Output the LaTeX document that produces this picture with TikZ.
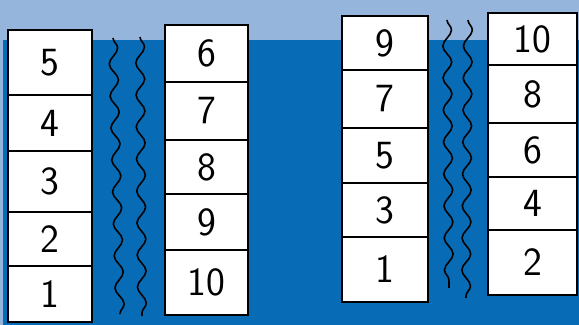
\documentclass[tikz,border=0pt]{standalone}
\usepackage{xcolor}
\definecolor{skyband}{RGB}{150,181,221}
\definecolor{seablue}{RGB}{8,107,181}
\usetikzlibrary{decorations.pathmorphing}

\begin{document}
\begin{tikzpicture}[x=0.5pt, y=-0.5pt,
    cell/.style={draw=black, fill=white, line width=1.2pt, inner sep=0pt,
                 font=\fontsize{20}{21}\selectfont\sffamily},
    wave/.style={draw=black, line width=0.8pt,
                 decorate, decoration={snake, amplitude=2.2pt, segment length=16pt}}]
  % Background: light band on top, dark blue below
  \fill[skyband] (0,0) rectangle (579,325);
  \fill[seablue] (3,40) rectangle (579,325);
  \useasboundingbox (0,0) rectangle (579,325);

  % First stack: 5 down to 1
  \node[cell, minimum width=42pt, minimum height=32.5pt] (l5) at (50,62.5) {5};
  \node[cell, minimum width=42pt, minimum height=28pt]   (l4) at (50,123)  {4};
  \node[cell, minimum width=42pt, minimum height=30.5pt] (l3) at (50,181.5) {3};
  \node[cell, minimum width=42pt, minimum height=27pt]   (l2) at (50,239)  {2};
  \node[cell, minimum width=42pt, minimum height=28pt]   (l1) at (50,294)  {1};

  % Gap between the first two stacks
  \coordinate (g1a) at (113,38);  \coordinate (g1b) at (120,314);
  \coordinate (g2a) at (140,37);  \coordinate (g2b) at (142,316);
  \draw[wave] (g1a) -- (g1b);
  \draw[wave] (g2a) -- (g2b);

  % Second stack: 6 down to 10
  \node[cell, minimum width=41.5pt, minimum height=28.5pt] (m6)  at (206.5,53.5) {6};
  \node[cell, minimum width=41.5pt, minimum height=29pt]   (m7)  at (206.5,111)  {7};
  \node[cell, minimum width=41.5pt, minimum height=27pt]   (m8)  at (206.5,167)  {8};
  \node[cell, minimum width=41.5pt, minimum height=28pt]   (m9)  at (206.5,222)  {9};
  \node[cell, minimum width=41.5pt, minimum height=32.5pt] (m10) at (206.5,282.5) {10};

  % Third stack: odd numbers
  \node[cell, minimum width=43pt, minimum height=27pt]   (o9) at (385,43)    {9};
  \node[cell, minimum width=43pt, minimum height=29pt]   (o7) at (385,99)    {7};
  \node[cell, minimum width=43pt, minimum height=27.5pt] (o5) at (385,155.5) {5};
  \node[cell, minimum width=43pt, minimum height=27pt]   (o3) at (385,210)   {3};
  \node[cell, minimum width=43pt, minimum height=32.5pt] (o1) at (385,269.5) {1};

  % Gap between the last two stacks
  \coordinate (g3a) at (447,20);  \coordinate (g3b) at (449,288);
  \coordinate (g4a) at (468,20);  \coordinate (g4b) at (466,298);
  \draw[wave] (g3a) -- (g3b);
  \draw[wave] (g4a) -- (g4b);

  % Fourth stack: even numbers
  \node[cell, minimum width=44.5pt, minimum height=26pt]   (e10) at (532.5,39)    {10};
  \node[cell, minimum width=44.5pt, minimum height=29pt]   (e8)  at (532.5,94)    {8};
  \node[cell, minimum width=44.5pt, minimum height=27pt]   (e6)  at (532.5,150)   {6};
  \node[cell, minimum width=44.5pt, minimum height=26.5pt] (e4)  at (532.5,203.5) {4};
  \node[cell, minimum width=44.5pt, minimum height=32.5pt] (e2)  at (532.5,262.5) {2};
\end{tikzpicture}
\end{document}
